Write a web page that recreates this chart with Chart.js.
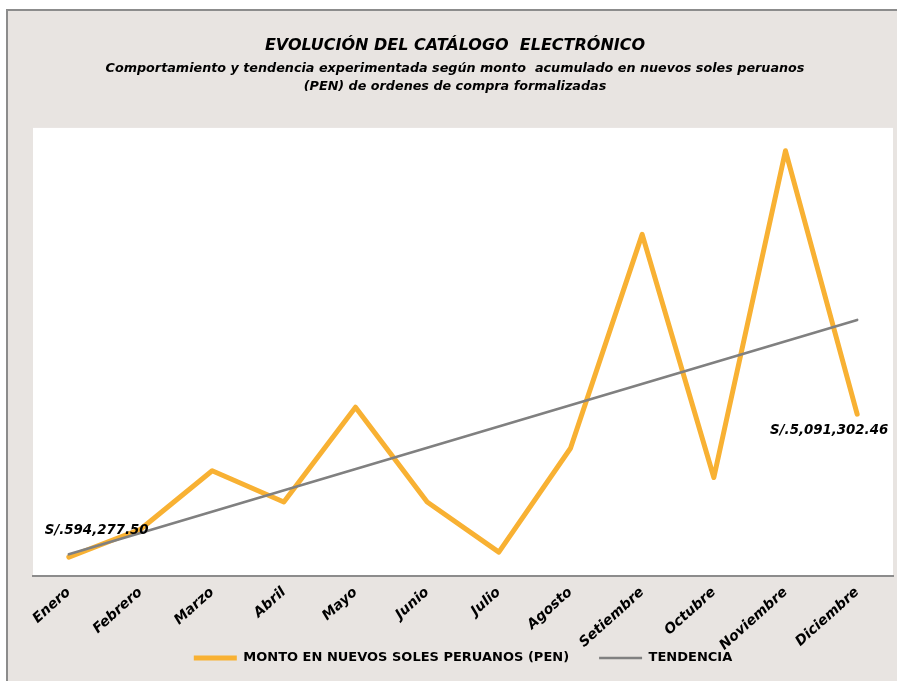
<!DOCTYPE html>
<html>
<head>
<meta charset="utf-8">
<script src="https://cdn.jsdelivr.net/npm/chart.js@4.4.1/dist/chart.umd.min.js"></script>
<style>
  html, body { margin: 0; padding: 0; background: #fff; }
  #wrap { position: relative; width: 897px; height: 681px; }
</style>
</head>
<body>
<div id="wrap"><canvas id="chart"></canvas></div>
<script>
// ── data ──
const meses = ['Enero', 'Febrero', 'Marzo', 'Abril', 'Mayo', 'Junio', 'Julio',
               'Agosto', 'Setiembre', 'Octubre', 'Noviembre', 'Diciembre'];
const montoPEN = [594277.50, 1470000, 3310000, 2330000, 5310000, 2330000, 750000,
                  4020000, 10750000, 3100000, 13380000, 5091302.46];
// trend line: only its two ends, the library joins them
const tendencia = [681000, null, null, null, null, null, null, null, null, null, null, 8058000];
const etiquetas = [0, 11]; // points that carry a value label
const yMax = 14100000;

const colores = {
  naranja: '#F8B133',
  gris:    '#808080',
  fondo:   '#E8E4E1',
  borde:   '#8C8C8C',
};

const fuente = 'DejaVu Sans';
const legendPad = 30;

const fondoPlugin = {
  id: 'fondo',
  beforeDraw(chart) {
    const { ctx, chartArea: a, width, height } = chart;
    ctx.save();
    ctx.fillStyle = '#ffffff';
    ctx.fillRect(0, 0, width, height);
    ctx.fillStyle = colores.fondo;
    ctx.fillRect(6, 9, width - 6, height - 9);
    ctx.strokeStyle = colores.borde;
    ctx.lineWidth = 2;
    ctx.beginPath();
    ctx.moveTo(7, height);
    ctx.lineTo(7, 10);
    ctx.lineTo(width, 10);
    ctx.stroke();
    ctx.fillStyle = '#ffffff';
    ctx.fillRect(a.left, a.top, a.right - a.left, a.bottom - a.top);
    ctx.restore();
  }
};

// legend sits over the bottom of the rotated month labels, as in the original
const leyendaPlugin = {
  id: 'leyendaPos',
  afterLayout(chart) {
    const lg = chart.legend;
    const h = lg.bottom - lg.top;
    lg.top = 658 - 6.5 - legendPad;
    lg.bottom = lg.top + h;
    lg.left += 8;
    lg.right += 8;
  }
};

// value labels on first and last point
const valorPlugin = {
  id: 'valor',
  afterDatasetsDraw(chart) {
    const meta = chart.getDatasetMeta(0);
    const { ctx } = chart;
    ctx.save();
    ctx.font = 'italic bold 14.8px "DejaVu Sans Condensed", "DejaVu Sans"';
    ctx.fillStyle = '#000';
    ctx.textBaseline = 'middle';
    etiquetas.forEach(i => {
      const p = meta.data[i];
      const txt = 'S/.' + montoPEN[i].toLocaleString('en-US', { minimumFractionDigits: 2, maximumFractionDigits: 2 });
      if (i === 0) {
        ctx.textAlign = 'left';
        ctx.fillText(txt, p.x - 24, p.y - 27);
      } else {
        ctx.textAlign = 'right';
        ctx.fillText(txt, p.x + 31, p.y + 16);
      }
    });
    ctx.restore();
  }
};

new Chart(document.getElementById('chart'), {
  type: 'line',
  data: {
    labels: meses,
    datasets: [{
      label: 'MONTO EN NUEVOS SOLES PERUANOS (PEN)',
      data: montoPEN,
      borderColor: colores.naranja,
      backgroundColor: colores.naranja,
      borderWidth: 5,
      borderJoinStyle: 'round',
      borderCapStyle: 'round',
      pointRadius: 0,
      tension: 0,
      order: 2,
    }, {
      label: 'TENDENCIA',
      data: tendencia,
      borderColor: colores.gris,
      backgroundColor: colores.gris,
      borderWidth: 2.6,
      borderCapStyle: 'round',
      pointRadius: 0,
      spanGaps: true,
      order: 1,
    }]
  },
  options: {
    responsive: true,
    maintainAspectRatio: false,
    animation: false,
    layout: { padding: { left: 17, right: 4, top: 0, bottom: -24 } },
    plugins: {
      title: {
        display: true,
        text: 'EVOLUCIÓN DEL CATÁLOGO  ELECTRÓNICO',
        color: '#000',
        font: { family: fuente, size: 16, weight: 'bold', style: 'italic', lineHeight: 1.2 },
        padding: { top: 36, bottom: 3 },
      },
      subtitle: {
        display: true,
        text: ['Comportamiento y tendencia experimentada según monto  acumulado en nuevos soles peruanos',
               '(PEN) de ordenes de compra formalizadas'],
        color: '#000',
        font: { family: fuente, size: 12.75, weight: 'bold', style: 'italic', lineHeight: 1.4 },
        padding: { top: 2, bottom: 32 },
      },
      legend: {
        position: 'bottom',
        labels: {
          usePointStyle: true,
          pointStyle: 'line',
          pointStyleWidth: 43,
          boxHeight: 13,
          padding: legendPad,
          color: '#000',
          font: { family: fuente, size: 13, weight: 'bold' },
          sort: (a, b) => a.datasetIndex - b.datasetIndex,
        }
      },
      tooltip: { enabled: false },
    },
    scales: {
      x: {
        offset: true,
        grid: { display: false, drawTicks: false },
        border: { display: true, color: colores.borde, width: 2 },
        ticks: {
          color: '#000',
          minRotation: 42,
          maxRotation: 42,
          padding: 8,
          font: { family: fuente, size: 14, weight: 'bold', style: 'italic' },
        },
        afterFit: s => { s.height = 76; },
      },
      y: {
        display: true,
        min: 0,
        max: yMax,
        grid: { display: false, drawTicks: false },
        border: { display: false },
        ticks: { display: false },
        afterFit: s => { s.width = 16; },
      }
    }
  },
  plugins: [fondoPlugin, leyendaPlugin, valorPlugin]
});
</script>
</body>
</html>
